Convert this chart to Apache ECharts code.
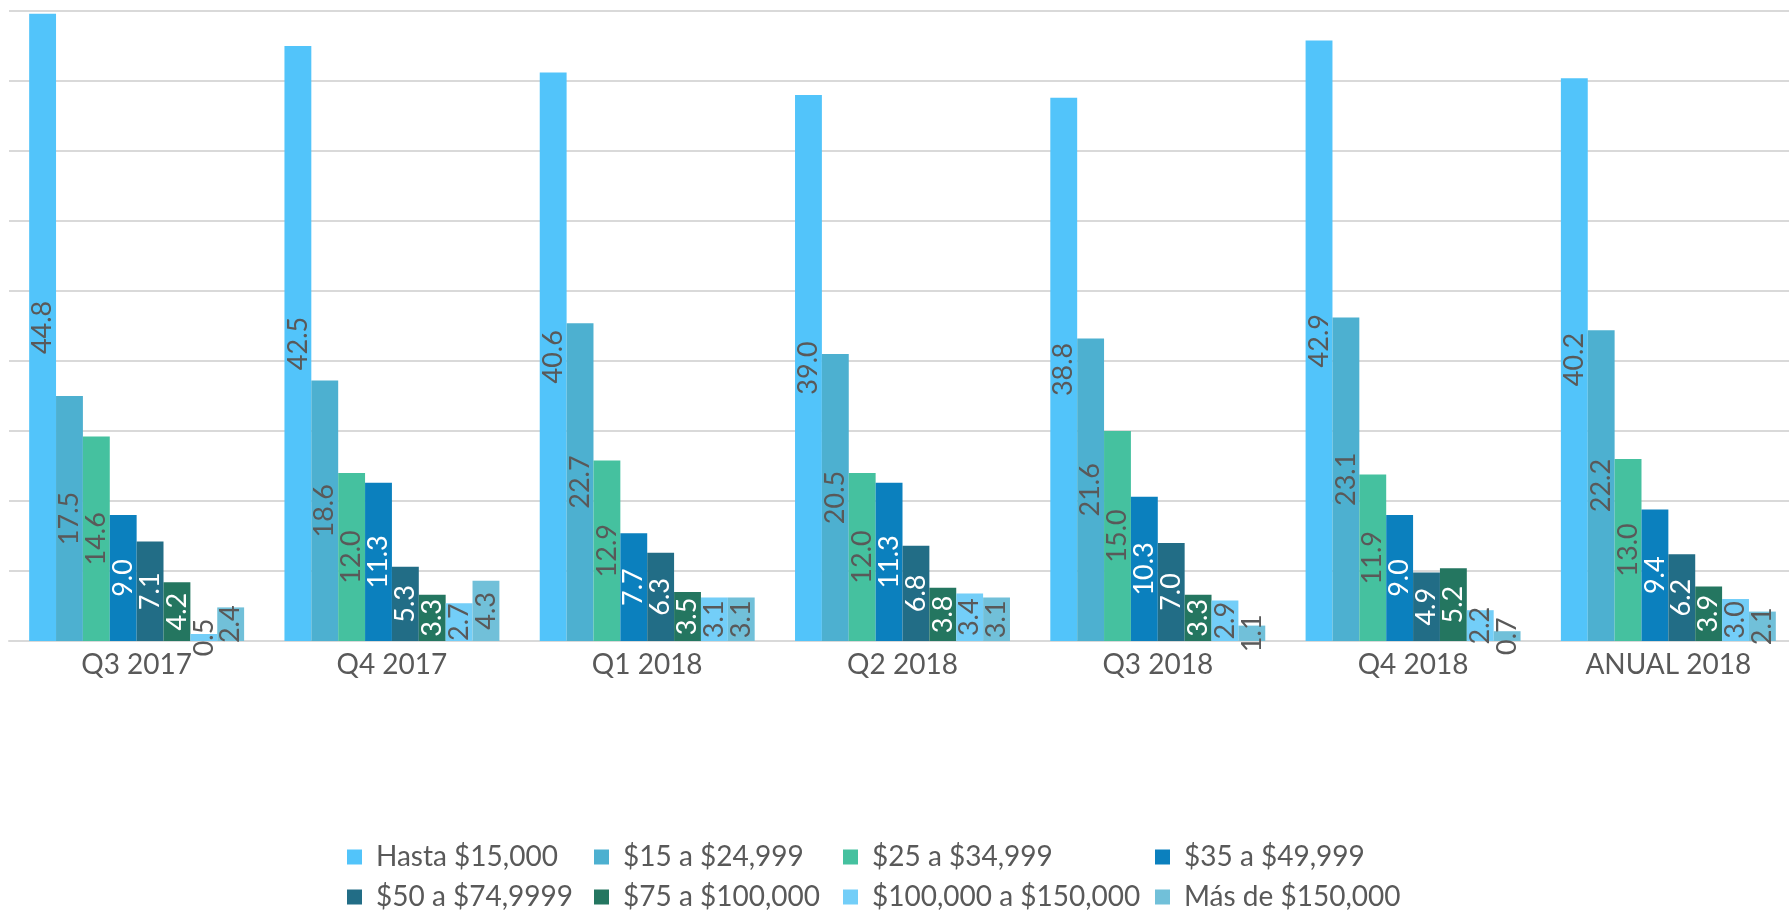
<!DOCTYPE html>
<html>
<head>
<meta charset="utf-8">
<script src="https://cdn.jsdelivr.net/npm/echarts@6/dist/echarts.min.js"></script>
<style>
html,body{margin:0;padding:0;background:#fff;}
#chart{width:1789px;height:912px;}
</style>
</head>
<body>
<div id="chart"></div>
<script>
const categories = ['Q3 2017','Q4 2017','Q1 2018','Q2 2018','Q3 2018','Q4 2018','ANUAL 2018'];
const seriesNames = ['Hasta $15,000','$15 a $24,999','$25 a $34,999','$35 a $49,999','$50 a $74,9999','$75 a $100,000','$100,000 a $150,000','Más de $150,000'];
const hasta15k   = [44.8, 42.5, 40.6, 39.0, 38.8, 42.9, 40.2];
const r15to25    = [17.5, 18.6, 22.7, 20.5, 21.6, 23.1, 22.2];
const r25to35    = [14.6, 12.0, 12.9, 12.0, 15.0, 11.9, 13.0];
const r35to50    = [9.0, 11.3, 7.7, 11.3, 10.3, 9.0, 9.4];
const r50to75    = [7.1, 5.3, 6.3, 6.8, 7.0, 4.9, 6.2];
const r75to100   = [4.2, 3.3, 3.5, 3.8, 3.3, 5.2, 3.9];
const r100to150  = [0.5, 2.7, 3.1, 3.4, 2.9, 2.2, 3.0];
const over150    = [2.4, 4.3, 3.1, 3.1, 1.1, 0.7, 2.1];
const seriesData = [hasta15k, r15to25, r25to35, r35to50, r50to75, r75to100, r100to150, over150];

const colors = ['#52C4FA','#4DB0D0','#45C19F','#0B80BE','#226D86','#247660','#73CEF8','#71C0D9'];
const labelColors = ['#595959','#595959','#595959','#ffffff','#ffffff','#ffffff','#595959','#595959'];

const FONT = 'Lato, "Noto Sans", sans-serif';
const chart = echarts.init(document.getElementById('chart'), null, {renderer:'canvas'});

const legendCols = [[0,4],[1,5],[2,6],[3,7]];
const legendLefts = [347, 594, 843, 1155];
const legends = legendCols.map((idx, c) => ({
  orient: 'vertical',
  left: legendLefts[c],
  top: 842,
  padding: 0,
  itemGap: 10,
  itemWidth: 15,
  itemHeight: 15,
  icon: 'rect',
  selectedMode: false,
  data: idx.map(i => seriesNames[i]),
  textStyle: { fontFamily: FONT, fontSize: 28, color: '#595959', lineHeight: 30, padding: [0,0,0,9] }
}));

const option = {
  backgroundColor: '#ffffff',
  animation: false,
  color: colors,
  legend: legends,
  grid: { left: 9, right: -7, top: 11, bottom: 271, containLabel: false, outerBoundsMode: 'none' },
  xAxis: {
    type: 'category',
    data: categories,
    axisLine: { show: true, lineStyle: { color: '#d9d9d9', width: 2 } },
    axisTick: { show: false },
    axisLabel: { fontFamily: FONT, fontSize: 28, color: '#595959', margin: 10 }
  },
  yAxis: {
    type: 'value',
    min: 0, max: 45, interval: 5,
    axisLine: { show: false },
    axisTick: { show: false },
    axisLabel: { show: false },
    splitLine: { show: true, lineStyle: { color: '#d9d9d9', width: 2 } }
  },
  series: seriesData.map((d, i) => ({
    name: seriesNames[i],
    type: 'bar',
    data: d,
    barGap: '0%',
    barCategoryGap: '15.8%',
    itemStyle: { color: colors[i] },
    label: {
      show: true,
      position: 'inside',
      rotate: 90,
      align: 'center',
      verticalAlign: 'middle',
      fontFamily: FONT,
      fontSize: 27,
      color: labelColors[i],
      formatter: p => p.value.toFixed(1)
    },
    labelLayout: { hideOverlap: false }
  }))
};
chart.setOption(option);
</script>
</body>
</html>
